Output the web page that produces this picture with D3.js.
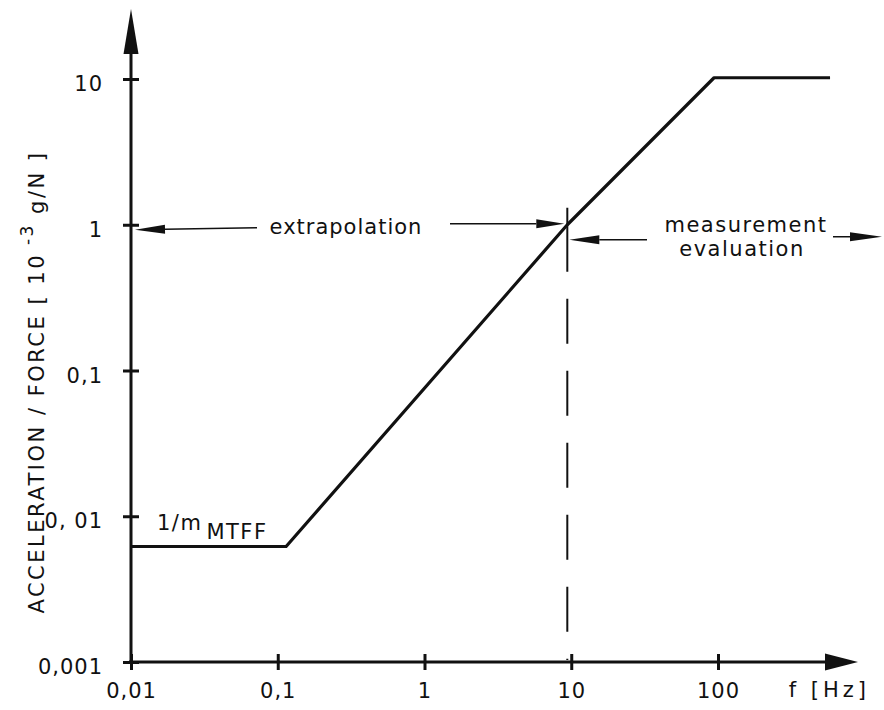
<!DOCTYPE html>
<html>
<head>
<meta charset="utf-8">
<script src="https://cdn.jsdelivr.net/npm/d3@7"></script>
<style>
  body { margin: 0; background: #fff; }
  text { font-family: "DejaVu Sans", sans-serif; fill: #111; }
</style>
</head>
<body>
<script>
// Data
const freqTicks = [0.01, 0.1, 1, 10, 100];
const freqLabels = ["0,01", "0,1", "1", "10", "100"];
const accTicks = [0.001, 0.01, 0.1, 1, 10];
const accLabels = ["0,001", "0, 01", "0,1", "1", "10"];

// transfer function (Hz, 10^-3 g/N)
const curveFreq = [0.01, 0.114, 9.4, 94, 580];
const curveAcc = [0.0062, 0.0062, 1.0, 10.2, 10.2];

const boundaryFreq = 9.4;   // end of measurement range
const refAcc = 1;           // level of the annotation arrows

const width = 884, height = 710;

let svg = d3.select("body")
    .append("svg")
    .attr("width", width)
    .attr("height", height);

// Scales
let x = d3.scaleLog().domain([0.01, 100]).range([131, 718]);
let y = d3.scaleLog().domain([0.001, 10]).range([662, 79]);

const x0 = x(0.01), y0 = y(0.001);

// draws a line with a filled arrow head at (x2, y2)
let arrow = (x1, y1, x2, y2, len, half, sw) => {
    let g = svg.append("g");
    let a = Math.atan2(y2 - y1, x2 - x1);
    let bx = x2 - len * Math.cos(a), by = y2 - len * Math.sin(a);
    g.append("line")
        .attr("x1", x1).attr("y1", y1)
        .attr("x2", bx).attr("y2", by)
        .attr("stroke", "#111")
        .attr("stroke-width", sw);
    let px = -Math.sin(a) * half, py = Math.cos(a) * half;
    g.append("path")
        .attr("d", `M${x2},${y2}L${bx + px},${by + py}L${bx - px},${by - py}Z`)
        .attr("fill", "#111");
    return g;
};

// Axes lines with arrows
arrow(x0, y0 + 2, x0, 9, 45, 7.5, 3);
arrow(x0 - 2, y0, 858, y0, 33, 8.5, 3);

// X axis ticks
let xAxis = d3.axisBottom(x)
    .tickValues(freqTicks)
    .tickFormat((d, i) => freqLabels[i])
    .tickSizeOuter(0)
    .tickSizeInner(8)
    .tickPadding(13);

let gx = svg.append("g")
    .attr("transform", `translate(0,${y0})`)
    .call(xAxis);
gx.select(".domain").remove();
gx.selectAll(".tick line")
    .attr("y1", -8).attr("y2", 8)
    .attr("stroke", "#111").attr("stroke-width", 3);
gx.selectAll(".tick text")
    .attr("font-size", 21)
    .attr("letter-spacing", 1)
    .attr("fill", "#111");

// Y axis ticks
let yAxis = d3.axisLeft(y)
    .tickValues(accTicks)
    .tickFormat((d, i) => accLabels[i])
    .tickSizeOuter(0)
    .tickSizeInner(8)
    .tickPadding(20);

let gy = svg.append("g")
    .attr("transform", `translate(${x0},0)`)
    .call(yAxis);
gy.select(".domain").remove();
gy.selectAll(".tick line")
    .attr("x1", -8).attr("x2", 8)
    .attr("stroke", "#111").attr("stroke-width", 3);
gy.selectAll(".tick text")
    .attr("font-size", 21)
    .attr("letter-spacing", 1)
    .attr("dy", "0.55em")
    .attr("fill", "#111");

// Axis titles
svg.append("text")
    .attr("x", 870)
    .attr("y", y0 + 35)
    .attr("text-anchor", "end")
    .attr("font-size", 21)
    .attr("letter-spacing", 4)
    .text("f [Hz]");

let yTitle = svg.append("text")
    .attr("transform", `translate(44,382) rotate(-90)`)
    .attr("text-anchor", "middle")
    .attr("font-size", 21)
    .attr("letter-spacing", 2.5);
yTitle.append("tspan").text("ACCELERATION / FORCE [ 10");
yTitle.append("tspan").attr("dy", -11).attr("font-size", 17).text(" -3");
yTitle.append("tspan").attr("dy", 11).text(" g/N ]");

// Curve
let line = d3.line()
    .x((d, i) => x(curveFreq[i]))
    .y(d => y(d));

svg.append("path")
    .datum(curveAcc)
    .attr("d", line)
    .attr("fill", "none")
    .attr("stroke", "#111")
    .attr("stroke-width", 3.2)
    .attr("stroke-linejoin", "round");

// 1/m_MTFF label
let mLabel = svg.append("text")
    .attr("x", x0 + 26)
    .attr("y", y(curveAcc[0]) - 17)
    .attr("font-size", 21)
    .attr("letter-spacing", 1.5);
mLabel.append("tspan").text("1/m");
mLabel.append("tspan").attr("dy", 9).attr("dx", 4).text("MTFF");

// Dashed boundary line at the end of the measured range
const bx = x(boundaryFreq), yr = y(refAcc);
svg.append("line")
    .attr("x1", bx).attr("x2", bx)
    .attr("y1", yr - 17).attr("y2", yr + 47)
    .attr("stroke", "#111").attr("stroke-width", 2);
svg.append("line")
    .attr("x1", bx).attr("x2", bx)
    .attr("y1", yr + 47).attr("y2", y0 - 2)
    .attr("stroke", "#111").attr("stroke-width", 2)
    .attr("stroke-dasharray", "45 27")
    .attr("stroke-dashoffset", 45);

// Extrapolation annotation
arrow(257, yr + 3, x0 + 4, yr + 5, 30, 4.5, 1.5);
arrow(450, yr - 1, bx - 3, yr - 1, 28, 4.5, 1.5);
svg.append("text")
    .attr("x", 346)
    .attr("y", yr + 9)
    .attr("text-anchor", "middle")
    .attr("font-size", 21)
    .attr("letter-spacing", 1)
    .text("extrapolation");

// Measurement annotation
arrow(647, yr + 15, bx + 2, yr + 15, 30, 4.5, 1.5);
arrow(833, yr + 12, 882, yr + 12, 32, 4.5, 1.5);
svg.append("text")
    .attr("x", 746)
    .attr("y", yr + 7)
    .attr("text-anchor", "middle")
    .attr("font-size", 21)
    .attr("letter-spacing", 1.5)
    .text("measurement");
svg.append("text")
    .attr("x", 742)
    .attr("y", yr + 31)
    .attr("text-anchor", "middle")
    .attr("font-size", 21)
    .attr("letter-spacing", 1.5)
    .text("evaluation");
</script>
</body>
</html>
